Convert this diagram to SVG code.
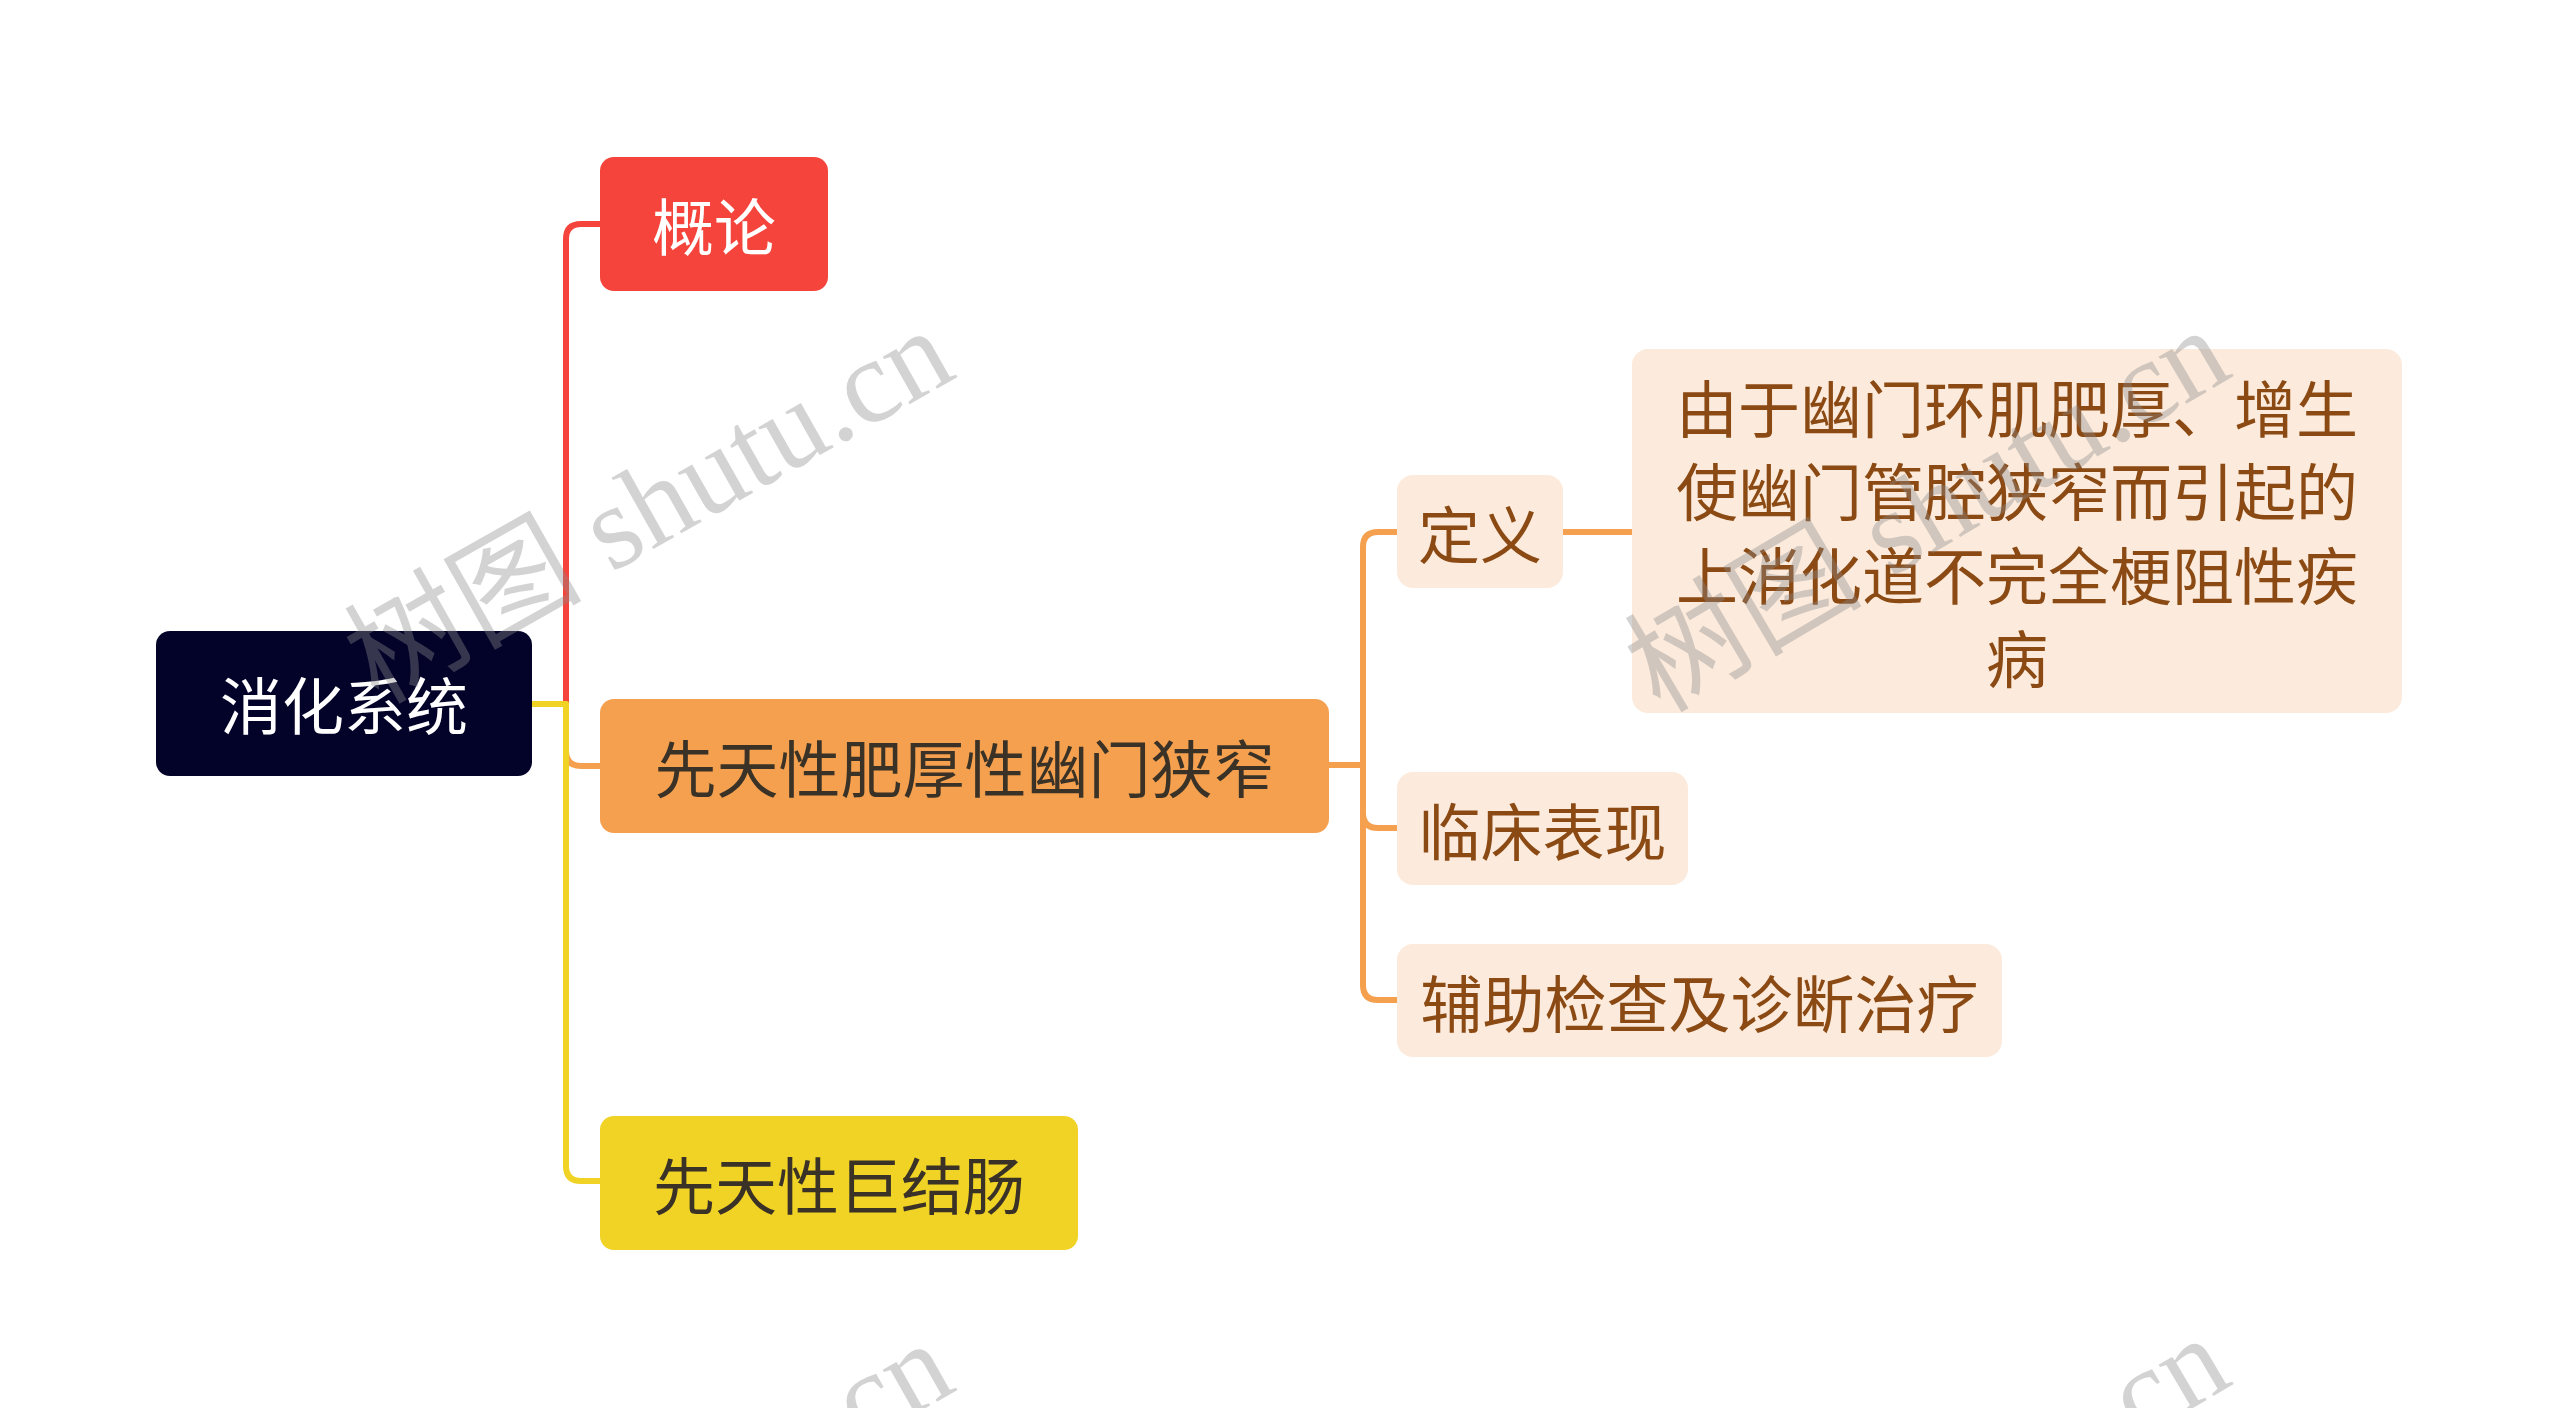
<svg xmlns="http://www.w3.org/2000/svg" width="2560" height="1408" viewBox="0 0 2560 1408">
<style>
text{font-family:"Noto Sans CJK SC","Noto Sans",sans-serif;font-size:62px;text-anchor:middle;dominant-baseline:central}
.lnk{fill:none;stroke-width:6;stroke-linecap:round;stroke-linejoin:round}
.sub rect{fill:#FCEBDC}
.sub text{fill:#8B4A14}
.dark{fill:#3a3226}
.wm{font-family:"Liberation Serif","Noto Sans CJK SC",serif;font-size:119px;fill:#8c8c8c;fill-opacity:0.38;text-anchor:start;dominant-baseline:alphabetic}
</style>
<rect width="2560" height="1408" fill="#ffffff"/>
<g id="connectors">
<path class="lnk" stroke="#F5443B" d="M532,704 H566 V239 Q566,224 581,224 H600"/>
<path class="lnk" stroke="#F4A04E" d="M532,704 H566 V751 Q566,766 581,766 H600"/>
<path class="lnk" stroke="#F0D324" d="M532,704 H566 V1166 Q566,1181 581,1181 H600"/>
<path class="lnk" stroke="#F4A04E" d="M1329,765 H1363 V547 Q1363,532 1378,532 H1397"/>
<path class="lnk" stroke="#F4A04E" d="M1329,765 H1363 V813 Q1363,828 1378,828 H1397"/>
<path class="lnk" stroke="#F4A04E" d="M1329,765 H1363 V985 Q1363,1000 1378,1000 H1397"/>
<path class="lnk" stroke="#F4A04E" d="M1563,532 H1632"/>
</g>
<g id="root">
<rect x="156" y="631" width="376" height="145" rx="14" fill="#03032A"/>
<text x="344" y="703" fill="#ffffff">消化系统</text>
</g>
<g id="gailun">
<rect x="600" y="157" width="228" height="134" rx="14" fill="#F5443B"/>
<text x="714" y="224" fill="#ffffff">概论</text>
</g>
<g id="youmen">
<rect x="600" y="699" width="729" height="134" rx="14" fill="#F4A04E"/>
<text class="dark" x="964.5" y="766">先天性肥厚性幽门狭窄</text>
</g>
<g id="jujiechang">
<rect x="600" y="1116" width="478" height="134" rx="14" fill="#F0D324"/>
<text class="dark" x="839" y="1183">先天性巨结肠</text>
</g>
<g id="dingyi" class="sub">
<rect x="1397" y="475" width="166" height="113" rx="16"/>
<text x="1480" y="532">定义</text>
</g>
<g id="dingyi-detail" class="sub">
<rect x="1632" y="349" width="770" height="364" rx="16"/>
<text x="2017" y="406">由于幽门环肌肥厚、增生</text>
<text x="2017" y="489">使幽门管腔狭窄而引起的</text>
<text x="2017" y="573">上消化道不完全梗阻性疾</text>
<text x="2017" y="656">病</text>
</g>
<g id="linchuang" class="sub">
<rect x="1397" y="772" width="291" height="113" rx="16"/>
<text x="1542.5" y="829">临床表现</text>
</g>
<g id="fuzhu" class="sub">
<rect x="1397" y="944" width="605" height="113" rx="16"/>
<text x="1699.5" y="1001">辅助检查及诊断治疗</text>
</g>
<g id="watermarks">
<text class="wm" transform="translate(378,705) rotate(-29.5)">树图 shutu.cn</text>
<text class="wm" transform="translate(1660,714) rotate(-30.5)">树图 shutu.cn</text>
<text class="wm" transform="translate(378,1718) rotate(-29.5)">树图 shutu.cn</text>
<text class="wm" transform="translate(1660,1722) rotate(-30.5)">树图 shutu.cn</text>
</g>
</svg>
